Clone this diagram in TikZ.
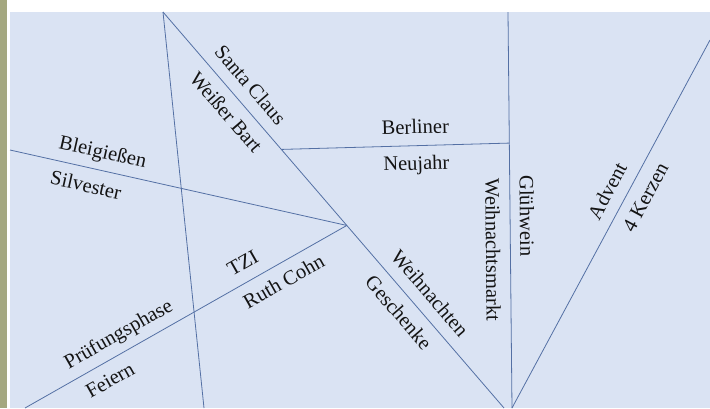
\documentclass[tikz,border=0pt]{standalone}
\usepackage{fontspec}
\setmainfont{Liberation Serif}
\usepackage{tikz}
\usetikzlibrary{calc}
\definecolor{panel}{RGB}{218,227,243}
\definecolor{strip}{RGB}{164,167,127}
\definecolor{wire}{RGB}{84,112,164}

\begin{document}
\begin{tikzpicture}[x=1pt,y=-1pt,
    wire/.style={draw=wire,line width=0.8pt},
    lab/.style={sloped,inner sep=3pt,text height=14pt,text depth=4.5pt,
      text=black!92,font=\fontsize{20.5}{23}\selectfont}]
  \useasboundingbox (0,0) rectangle (710,408);
  \fill[strip] (0,0) rectangle (7,408);
  \fill[panel] (10,12) rectangle (710,408);
  % end points
  \coordinate (top) at (163,12);
  \coordinate (diagbot) at (504,408);
  \coordinate (leftbot) at (204,408);
  \coordinate (vtop) at (508,12);
  \coordinate (vbot) at (512,408);
  \coordinate (rim) at (710,40);
  \coordinate (west) at (10,150);
  \coordinate (sw) at (25,408);
  \coordinate (hub) at ($(top)!.539!(diagbot)$);
  \coordinate (fork) at ($(top)!.347!(diagbot)$);
  \coordinate (vjoin) at ($(vtop)!.331!(vbot)$);
  % lines
  \path[wire] (top) -- (leftbot);
  \path[wire] (top) -- node[lab,pos=.215,above=4pt] (santa) {Santa Claus}
    node[lab,pos=.224,below=7pt] (bart) {Weißer Bart}
    node[lab,pos=.741,above=4pt] (xmas) {Weihnachten}
    node[lab,pos=.73,below=7pt] (gifts) {Geschenke} (diagbot);
  \path[wire] (fork) -- node[lab,pos=.59,above=4pt] (berlin) {Berliner}
    node[lab,pos=.59,below=7pt] (newyear) {Neujahr} (vjoin);
  \path[wire] (vtop) -- node[lab,pos=.515,above=2pt] (gluehwein) {Glühwein}
    node[lab,pos=.6,below=7pt] (market) {Weihnachtsmarkt} (vbot);
  \path[wire] (vbot) -- node[lab,pos=.565,above=4pt] (advent) {Advent}
    node[lab,pos=.595,below=7pt] (candles) {4 Kerzen} (rim);
  \path[wire] (west) -- node[lab,pos=.264,above=4pt] (lead) {Bleigießen}
    node[lab,pos=.237,below=7pt] (silvester) {Silvester} (hub);
  \path[wire] (sw) -- node[lab,pos=.318,above=4pt] (exams) {Prüfungsphase}
    node[lab,pos=.237,below=7pt] (party) {Feiern}
    node[lab,pos=.705,above=4pt] (tzi) {TZI}
    node[lab,pos=.777,below=7pt] (cohn) {Ruth Cohn} (hub);
\end{tikzpicture}
\end{document}
